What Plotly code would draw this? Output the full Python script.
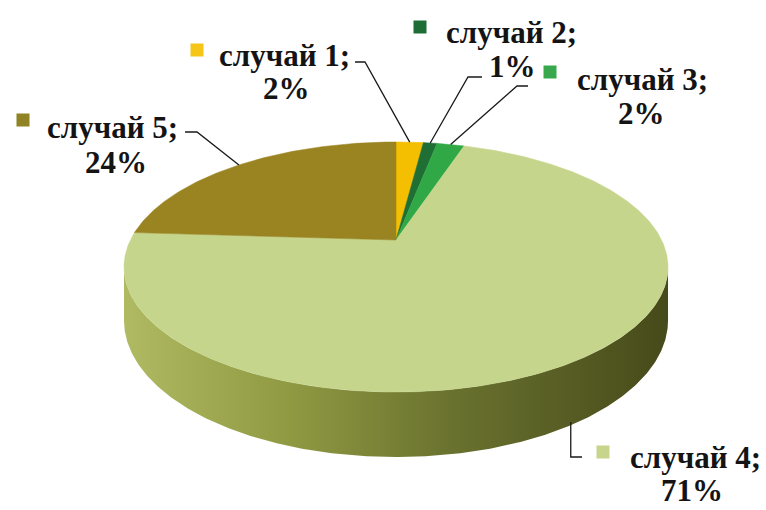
import math
import plotly.graph_objects as go

# ---- data ----
categories = ["случай 1", "случай 2", "случай 3", "случай 4", "случай 5"]
shares = [2, 1, 2, 71, 24]
pct_labels = ["2%", "1%", "2%", "71%", "24%"]

# ---- style ----
top_colors = ["#f4bf00", "#1f6f34", "#30a846", "#c6d58c", "#9a8422"]
key_colors = ["#f5c518", "#1e6d35", "#39a84d", "#c6d48c", "#8f8323"]
side_scale = [[0, "#b0ba62"], [0.3, "#909a42"], [0.6, "#6a722f"], [1, "#464a1a"]]

W, H = 766, 510
CX, CY = 396, 240          # apex of pie on screen
A, B, C = 265.6, 119.2, 51  # horizontal radius, depth radius, thickness
P = 0.216                   # perspective factor

# label layout: name line centre, value line centre, key position, leader elbow points
label_layout = [
    dict(n=(284, 55), v=(286, 88), k=(197, 50), elbow=[(365, 62), (355, 62)]),
    dict(n=(511, 32), v=(512, 66), k=(420, 27), elbow=[(468, 77), (482, 77)]),
    dict(n=(642, 79), v=(641, 113), k=(550, 72), elbow=[(517, 86), (528, 86)]),
    dict(n=(695, 457), v=(692, 490), k=(603, 452), elbow=None),
    dict(n=(112, 127), v=(116, 162), k=(23, 120), elbow=[(197, 132), (185, 132)]),
]
FONT = dict(family="Liberation Serif", size=31, color="#141414")


def proj(theta_deg, z=0.0):
    t = math.radians(theta_deg)
    u, v = math.sin(t), -math.cos(t)
    d = 1 - P * v
    return CX + A * u / d, CY + (B * v + C * z) / d


def arc(a0, a1, z=0.0, step=0.5):
    n = max(2, int(abs(a1 - a0) / step) + 1)
    pts = [proj(a0 + (a1 - a0) * i / (n - 1), z) for i in range(n)]
    return [p[0] for p in pts], [p[1] for p in pts]


fig = go.Figure()

total = sum(shares)
bounds = [0.0]
for s in shares:
    bounds.append(bounds[-1] + 360.0 * s / total)

# side (front visible part of the cylinder)
sil = math.degrees(math.acos(-P))
tx_, ty_ = arc(sil, 360 - sil, 0)
bx_, by_ = arc(360 - sil, sil, 1)
fig.add_trace(go.Scatter(
    x=tx_ + bx_, y=ty_ + by_, fill="toself", mode="lines",
    line=dict(width=0), fillgradient=dict(type="horizontal", colorscale=side_scale),
    hoverinfo="skip", showlegend=False))

# top face slices
for i in range(len(shares)):
    ax, ay = arc(bounds[i], bounds[i + 1], 0)
    fig.add_trace(go.Scatter(
        x=[CX] + ax + [CX], y=[CY] + ay + [CY], fill="toself", mode="lines",
        line=dict(width=0.5, color=top_colors[i]), fillcolor=top_colors[i],
        hoverinfo="skip", showlegend=False))

# leader lines, keys and labels
for i, lay in enumerate(label_layout):
    mid = (bounds[i] + bounds[i + 1]) / 2
    kx, ky = lay["k"]
    if lay["elbow"] is None:
        axp, ayp = proj(mid, 1)
        axp -= 7
        lx = [axp, axp, kx - 21]
        ly = [ayp, ky + 5, ky + 5]
    else:
        axp, ayp = proj(mid, 0)
        lx = [axp] + [e[0] for e in lay["elbow"]]
        ly = [ayp] + [e[1] for e in lay["elbow"]]
    fig.add_trace(go.Scatter(x=lx, y=ly, mode="lines", line=dict(color="#1a1a1a", width=1.3),
                             hoverinfo="skip", showlegend=False))
    fig.add_trace(go.Scatter(x=[kx], y=[ky], mode="markers",
                             marker=dict(symbol="square", size=13, color=key_colors[i]),
                             hoverinfo="skip", showlegend=False))
    fig.add_annotation(x=lay["n"][0], y=lay["n"][1], xref="x", yref="y",
                       text=f"<b>{categories[i]};</b>", showarrow=False, font=FONT)
    fig.add_annotation(x=lay["v"][0], y=lay["v"][1], xref="x", yref="y",
                       text=f"<b>{pct_labels[i]}</b>", showarrow=False, font=FONT)

fig.update_layout(
    width=W, height=H, autosize=False, margin=dict(l=0, r=0, t=0, b=0),
    paper_bgcolor="white", plot_bgcolor="white",
    xaxis=dict(range=[0, W], visible=False, fixedrange=True),
    yaxis=dict(range=[H, 0], visible=False, fixedrange=True),
)

fig.write_html("out.html")
